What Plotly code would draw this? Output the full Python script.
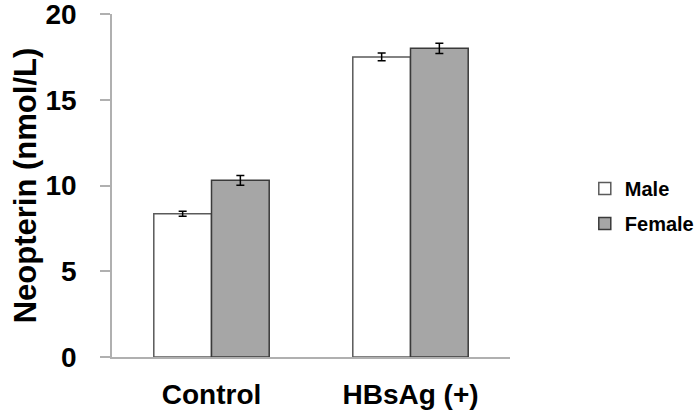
import plotly.graph_objects as go

categories = ["Control", "HBsAg (+)"]
male_values = [8.35, 17.5]
male_err = [0.15, 0.22]
female_values = [10.3, 18.0]
female_err = [0.28, 0.3]
y_ticks = [0, 5, 10, 15, 20]

FONT = "Liberation Sans, Arial, sans-serif"

fig = go.Figure()
fig.add_trace(go.Bar(
    x=categories, y=male_values, name="Male", legendgroup="m",
    marker=dict(color="#ffffff", line=dict(color="#5a5a5a", width=1.5)),
    error_y=dict(type="data", array=male_err, color="#000000", thickness=1.5, width=4),
))
fig.add_trace(go.Bar(
    x=categories, y=female_values, name="Female", legendgroup="f",
    marker=dict(color="#a6a6a6", line=dict(color="#3a3a3a", width=1.5)),
    error_y=dict(type="data", array=female_err, color="#000000", thickness=1.5, width=4),
))

fig.update_layout(
    width=698, height=412,
    margin=dict(l=112, r=188, t=14, b=55),
    paper_bgcolor="white", plot_bgcolor="white",
    barmode="group", bargap=0.42, bargroupgap=0,
    font=dict(family=FONT, color="#000000"),
    legend=dict(
        xref="container", yref="container",
        x=0.855, xanchor="left", y=0.5, yanchor="middle",
        indentation=-12,
        font=dict(family=FONT, size=20, color="#000000", weight="bold"),
        bgcolor="rgba(0,0,0,0)", tracegroupgap=6,
    ),
    xaxis=dict(
        showline=True, linecolor="#b0b0b0", linewidth=1.5,
        ticks="", showgrid=False, automargin=False,
        tickfont=dict(family=FONT, size=28, weight="bold"),
        ticklabelstandoff=12,
    ),
    yaxis=dict(
        range=[0, 20], tickvals=y_ticks,
        showline=True, linecolor="#b0b0b0", linewidth=1.5,
        ticks="outside", ticklen=10, tickcolor="#b0b0b0", tickwidth=1.5,
        showgrid=False, zeroline=False, automargin=False,
        tickfont=dict(family=FONT, size=28, weight="bold"),
        ticklabelstandoff=18, ticklabeloverflow="allow",
        title=dict(text="Neopterin (nmol/L)",
                   font=dict(family=FONT, size=31, weight="bold"),
                   standoff=0),
    ),
)

fig.write_html("out.html")
